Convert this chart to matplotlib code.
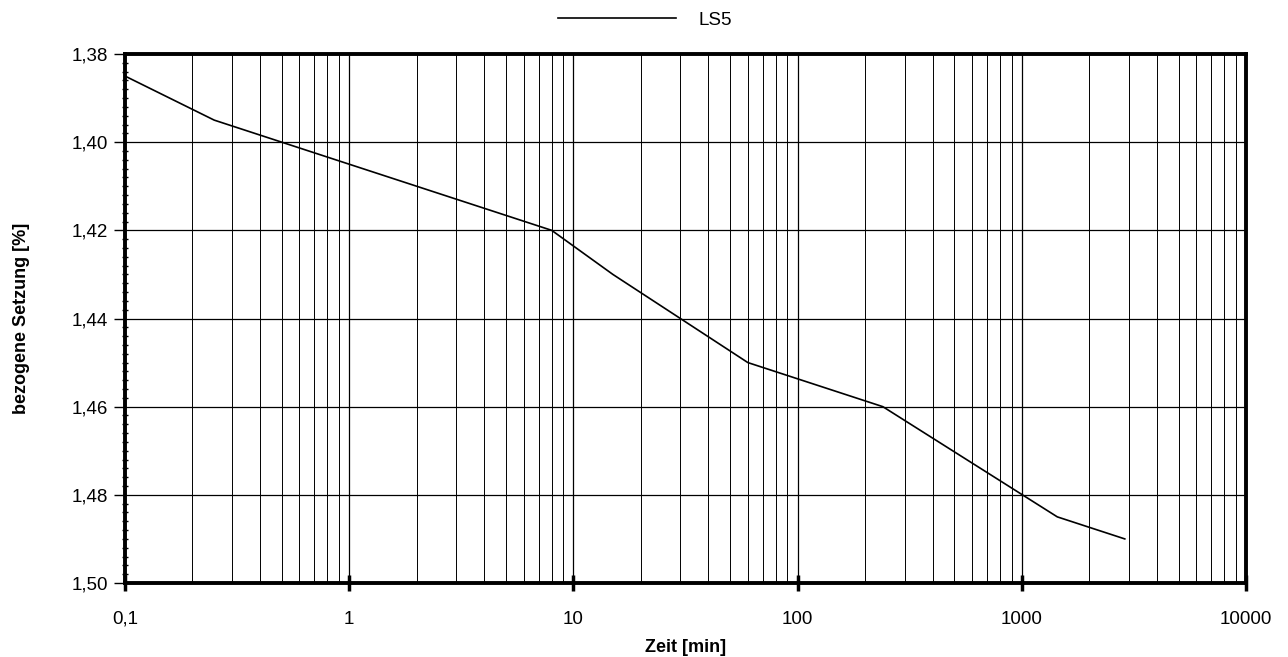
import matplotlib.pyplot as plt
from matplotlib.ticker import FixedLocator, LogLocator, MultipleLocator, FuncFormatter

plt.rcParams['font.family'] = ['Liberation Sans', 'DejaVu Sans']

# data
zeit = [0.1, 0.25, 0.5, 1, 2, 4, 8, 15, 30, 60, 120, 240, 1440, 2880]
setzung = [1.385, 1.395, 1.400, 1.405, 1.410, 1.415, 1.420, 1.430, 1.440,
           1.450, 1.455, 1.460, 1.485, 1.490]
series_name = 'LS5'
x_ticks = [0.1, 1, 10, 100, 1000, 10000]
x_labels = ['0,1', '1', '10', '100', '1000', '10000']
y_ticks = [1.38, 1.40, 1.42, 1.44, 1.46, 1.48, 1.50]

fig = plt.figure(figsize=(12.88, 6.57), dpi=100)
ax = fig.add_axes([125 / 1288, 1 - 583 / 657, (1246 - 125) / 1288, (583 - 54) / 657])

line, = ax.plot(zeit, setzung, color='black', lw=1.2)

ax.set_xscale('log')
ax.set_xlim(0.1, 10000)
ax.set_ylim(1.50, 1.38)

ax.xaxis.set_major_locator(FixedLocator(x_ticks))
ax.xaxis.set_major_formatter(FuncFormatter(lambda v, p: x_labels[x_ticks.index(v)] if v in x_ticks else ''))
ax.xaxis.set_minor_locator(LogLocator(base=10, subs=range(2, 10)))
ax.xaxis.set_minor_formatter(FuncFormatter(lambda v, p: ''))

ax.yaxis.set_major_locator(FixedLocator(y_ticks))
ax.yaxis.set_major_formatter(FuncFormatter(lambda v, p: f'{v:.2f}'.replace('.', ',')))
ax.yaxis.set_minor_locator(MultipleLocator(0.002))

ax.grid(which='major', color='black', lw=0.9)
ax.grid(which='minor', axis='x', color='black', lw=0.7)

ax.tick_params(axis='x', which='major', direction='inout', length=12, width=2.5,
               labelsize=13.5, pad=14)
ax.tick_params(axis='x', which='minor', length=0)
ax.tick_params(axis='y', which='major', direction='out', length=8, width=1,
               labelsize=13.5, pad=4)
ax.tick_params(axis='y', which='minor', direction='inout', length=5, width=1)

for s in ax.spines.values():
    s.set_linewidth(2.8)

ax.set_xlabel('Zeit [min]', fontsize=13, fontweight='bold', labelpad=8)
ax.set_ylabel('bezogene Setzung [%]', fontsize=13, fontweight='bold', labelpad=30)

fig.legend([line], [series_name], loc='center', bbox_to_anchor=(645 / 1288, 1 - 20 / 657),
           frameon=False, fontsize=13.5, handlelength=6.3, handletextpad=1.2)

fig.savefig('out.png', dpi=100)
